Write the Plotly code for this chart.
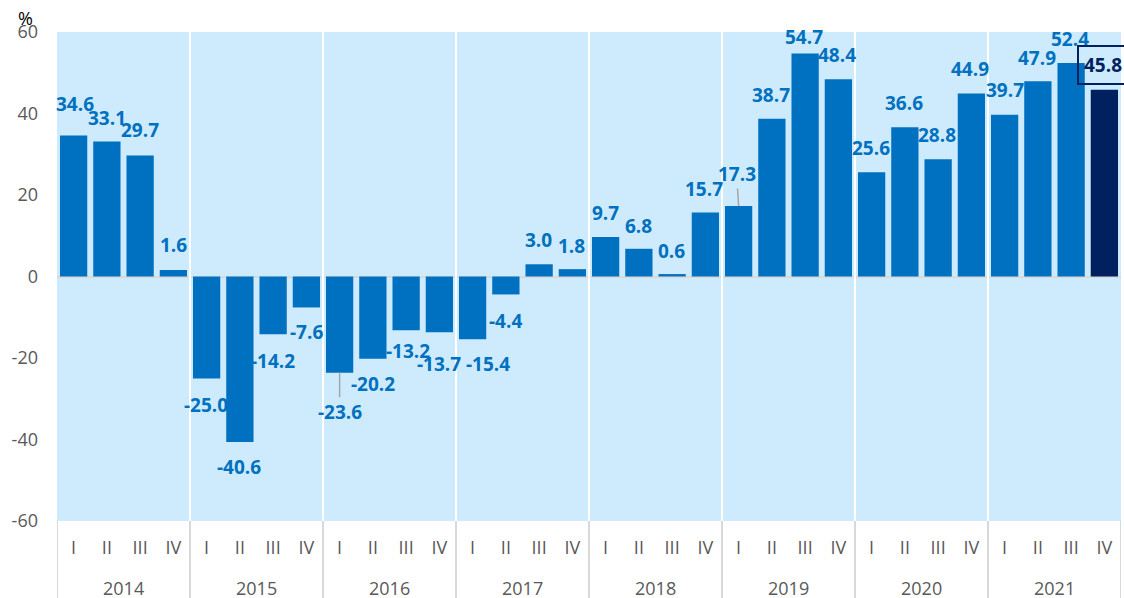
import plotly.graph_objects as go

# Quarterly change, %
years = ["2014", "2015", "2016", "2017", "2018", "2019", "2020", "2021"]
quarters = ["I", "II", "III", "IV"]
values = [
    34.6, 33.1, 29.7, 1.6,
    -25.0, -40.6, -14.2, -7.6,
    -23.6, -20.2, -13.2, -13.7,
    -15.4, -4.4, 3.0, 1.8,
    9.7, 6.8, 0.6, 15.7,
    17.3, 38.7, 54.7, 48.4,
    25.6, 36.6, 28.8, 44.9,
    39.7, 47.9, 52.4, 45.8,
]
y_ticks = [-60, -40, -20, 0, 20, 40, 60]
y_ticktext = ["-60", "-40", "-20", "0", "20", "40", "60"]

# label placement relative to the bar end, in pixels (xshift, yshift)
label_shift = [
    (1, 32), (0, 24), (0, 25), (0, 25),
    (-1, -27), (-1, -25), (0, -27), (0, -25),
    (0, -39), (0, -25), (2, -21), (0, -32),
    (15, -25), (0, -27), (-1, 24), (-1, 23),
    (0, 24), (0, 23), (-1, 23), (-1, 24),
    (-2, 32), (-1, 24), (-1, 17), (-1, 24),
    (-1, 24), (-1, 24), (-1, 24), (-1, 25),
    (0, 25), (-1, 23), (-1, 24), (-1, 25),
]
leader_idx = {8, 20}

BLUE = "#0070C0"
NAVY = "#002060"
GRID = "#D9D9D9"
TXT = "#595959"
FONT = "Open Sans"

n = len(values)
xs = list(range(n))
qlabels = [quarters[i % 4] for i in xs]
colors = [BLUE] * (n - 1) + [NAVY]

fig = go.Figure(
    go.Bar(
        x=xs,
        y=values,
        width=0.82,
        marker=dict(color=colors, line=dict(width=0)),
        hoverinfo="skip",
    )
)

annotations = []
for i, v in enumerate(values):
    dx, dy = label_shift[i]
    last = i == n - 1
    font = dict(family=FONT, size=19, color=NAVY if last else BLUE, weight="bold")
    txt = f"{v:.1f}"
    if i in leader_idx:
        annotations.append(dict(
            x=i, y=v, xref="x", yref="y", text=txt, font=font,
            showarrow=True, arrowhead=0, arrowwidth=1.5, arrowcolor="#A6A6A6",
            axref="pixel", ayref="pixel", ax=dx, ay=-dy,
            xanchor="center", yanchor="middle", standoff=0,
        ))
    else:
        annotations.append(dict(
            x=i, y=v, xref="x", yref="y", text=txt, font=font,
            showarrow=False, xshift=dx, yshift=dy,
            xanchor="center", yanchor="middle",
            bordercolor=NAVY if last else None,
            borderwidth=2 if last else 0,
            borderpad=5 if last else 0,
        ))

# year labels under the quarter labels
for k, yr in enumerate(years):
    annotations.append(dict(
        x=4 * k + 1.5, y=0, xref="x", yref="paper", text=yr,
        showarrow=False, yanchor="middle", yshift=-67,
        font=dict(family=FONT, size=18, color=TXT),
    ))

# axis unit
annotations.append(dict(
    x=0, y=1, xref="paper", yref="paper", text="%", showarrow=False,
    xanchor="center", yanchor="middle", xshift=-32, yshift=14,
    font=dict(family=FONT, size=18, color="#000000"),
))

shapes = []
# year separators in the plot area
for k in range(1, len(years)):
    xb = 4 * k - 0.5
    shapes.append(dict(type="line", xref="x", yref="paper", x0=xb, x1=xb,
                       y0=0, y1=1, line=dict(color="white", width=2), layer="above"))
# dividers in the category label band
for k in range(len(years) + 1):
    xb = 4 * k - 0.5
    shapes.append(dict(type="line", xref="x", yref="paper", x0=xb, x1=xb,
                       y0=0, y1=-0.16, line=dict(color=GRID, width=2)))

fig.update_layout(
    width=1124,
    height=598,
    margin=dict(l=57, r=3, t=32, b=77),
    paper_bgcolor="white",
    plot_bgcolor="#CDEBFC",
    showlegend=False,
    annotations=annotations,
    shapes=shapes,
    xaxis=dict(
        range=[-0.5, n - 0.5],
        tickvals=xs,
        ticktext=qlabels,
        showgrid=False,
        zeroline=False,
        showline=False,
        ticks="",
        ticklabelstandoff=14,
        tickfont=dict(family=FONT, size=18, color=TXT),
        fixedrange=True,
    ),
    yaxis=dict(
        range=[-60, 60],
        tickvals=y_ticks,
        ticktext=y_ticktext,
        showgrid=False,
        zeroline=True,
        zerolinecolor=GRID,
        zerolinewidth=2,
        showline=False,
        ticks="",
        ticklabelstandoff=18,
        tickfont=dict(family=FONT, size=18, color=TXT),
        fixedrange=True,
    ),
)

fig.write_html("out.html")
